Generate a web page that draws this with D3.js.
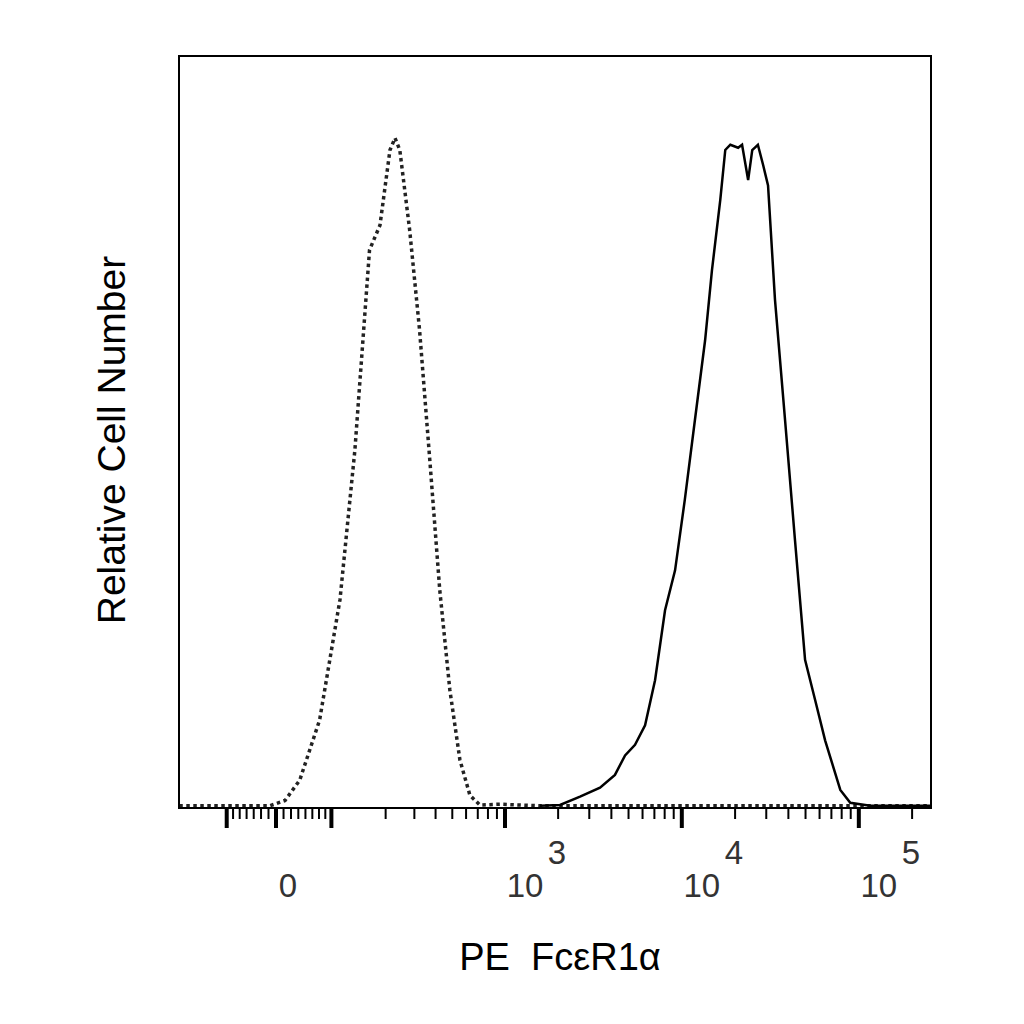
<!DOCTYPE html><html><head><script src="https://cdn.jsdelivr.net/npm/d3@7"></script>
<style>body{margin:0;background:#fff}</style></head><body><svg id="c" width="1024" height="1024"></svg>
<script>
const isoX=[-165,-8,12,32,61,95,124,157,184,213,229,245,281,322,370,423,484,553,631,719,935,1580,257000];
const isoY=[0.3,0.3,1,3.7,11.7,27.7,47.6,74.2,77.5,87.5,89.1,87.5,76.9,63.6,46.3,29,15.7,6.4,1.7,0.4,0.5,0.3,0.3];
const abX=[1580,2050,2660,3450,4190,4780,5440,6200,7060,8040,9160,10400,11860,13540,14800,16500,17600,18800,20800,21900,23700,25000,26900,28800,30700,33600,38300,43600,49700,56600,64500,78600,89500,116000,257000];
const abY=[0.3,0.4,1.5,2.7,4.4,7,8.4,11,17,26.3,31.6,41,51.6,62.2,71.5,80.9,87.5,88.2,87.8,88.2,83.5,87.5,88.2,85.5,82.8,67.6,51.6,35.6,19.7,14.4,9,2.4,0.7,0.3,0.3];
const majorTicks=[-70,0,80,1000,10000,100000];
const minorTicks=[-60,-50,-40,-30,-20,-10,10,20,30,40,50,60,70,200,300,400,500,600,700,800,900,2000,3000,4000,5000,6000,7000,8000,9000,20000,30000,40000,50000,60000,70000,80000,90000,200000];
const tickLabels=[{v:0,b:"0",e:""},{v:1000,b:"10",e:"3"},{v:10000,b:"10",e:"4"},{v:100000,b:"10",e:"5"}];
const L=179,R=931,T=56,B=808;
const lin=d3.scaleLinear().domain([-1.262,8.52]).range([L,R]);
const x=v=>lin(Math.asinh(v/102));
const y=d3.scaleLinear().domain([0,100]).range([B,T]);
const svg=d3.select("#c");
const line=d3.line().x(d=>x(d[0])).y(d=>y(d[1])).curve(d3.curveLinear);
svg.append("clipPath").attr("id","cp").append("rect").attr("x",L).attr("y",T).attr("width",R-L).attr("height",B-T);
const g=svg.append("g").attr("clip-path","url(#cp)");
g.append("path").attr("d",line(d3.zip(isoX,isoY))).attr("fill","none").attr("stroke","#222").attr("stroke-width",3.5).attr("stroke-dasharray","3.5,3.5");
g.append("path").attr("d",line(d3.zip(abX,abY))).attr("fill","none").attr("stroke","#000").attr("stroke-width",2.5);
svg.append("rect").attr("x",L).attr("y",T).attr("width",R-L).attr("height",B-T).attr("fill","none").attr("stroke","#000").attr("stroke-width",2);
minorTicks.forEach(v=>svg.append("line").attr("x1",x(v)).attr("x2",x(v)).attr("y1",B).attr("y2",B+11).attr("stroke","#000").attr("stroke-width",2));
majorTicks.forEach(v=>svg.append("line").attr("x1",x(v)).attr("x2",x(v)).attr("y1",B).attr("y2",B+20).attr("stroke","#000").attr("stroke-width",4));
const F="Liberation Sans, Arial";
tickLabels.forEach(t=>{
 svg.append("text").attr("x",x(t.v)+(t.e?20:12)).attr("y",897).attr("font-family",F).attr("font-size",33).attr("fill","#333").attr("text-anchor","middle").text(t.b);
 if(t.e) svg.append("text").attr("x",x(t.v)+52).attr("y",864).attr("font-family",F).attr("font-size",33).attr("fill","#333").attr("text-anchor","middle").text(t.e);
});
svg.append("text").attr("x",560).attr("y",970).attr("text-anchor","middle").attr("font-family",F).attr("font-size",38).attr("xml:space","preserve").style("white-space","pre").text("PE  FcεR1α");
svg.append("text").attr("transform","translate(125,440) rotate(-90)").attr("text-anchor","middle").attr("font-family",F).attr("font-size",39).text("Relative Cell Number");
</script></body></html>
